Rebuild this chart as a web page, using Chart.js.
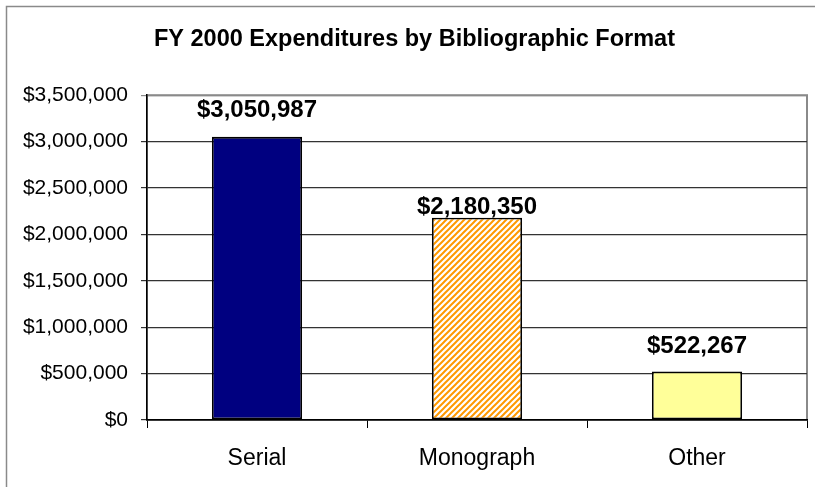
<!DOCTYPE html>
<html>
<head>
<meta charset="utf-8">
<script src="https://cdn.jsdelivr.net/npm/chart.js@4"></script>
<style>
  html, body { margin: 0; padding: 0; background: #fff; }
  #wrap { width: 815px; height: 487px; position: relative; }
</style>
</head>
<body>
<div id="wrap"><canvas id="formatChart"></canvas></div>
<script>
const categories   = ['Serial', 'Monograph', 'Other'];
const expenditures = [3050987, 2180350, 522267];
const yMax  = 3500000;
const yStep = 500000;

const FONT = '"Liberation Sans", Arial, sans-serif';

function money(v) {
  return '$' + Number(v).toLocaleString('en-US');
}

// orange diagonal hatch for the Monograph bar
function hatch() {
  const c = document.createElement('canvas');
  c.width = 6; c.height = 6;
  const g = c.getContext('2d');
  g.fillStyle = '#fff';
  g.fillRect(0, 0, 6, 6);
  g.strokeStyle = '#FF9900';
  g.lineWidth = 2;
  g.beginPath();
  g.moveTo(0, 6); g.lineTo(6, 0);
  g.moveTo(-3, 3); g.lineTo(3, -3);
  g.moveTo(3, 9); g.lineTo(9, 3);
  g.stroke();
  return g.createPattern(c, 'repeat');
}

const frame = {
  id: 'frame',
  beforeDraw(chart) {
    const ctx = chart.ctx, a = chart.chartArea;
    ctx.save();
    ctx.strokeStyle = '#8a8a8a';
    ctx.lineWidth = 1.5;
    ctx.strokeRect(6.5, 6.5, 820, 500);
    ctx.lineWidth = 2;
    ctx.strokeRect(a.left, a.top, a.right - a.left, a.bottom - a.top);
    ctx.restore();
  }
};

const valueLabels = {
  id: 'valueLabels',
  afterDatasetsDraw(chart, args, opts) {
    const ctx = chart.ctx;
    const meta = chart.getDatasetMeta(0);
    ctx.save();
    ctx.font = 'bold 24px ' + FONT;
    ctx.fillStyle = '#000';
    ctx.textAlign = 'center';
    ctx.textBaseline = 'alphabetic';
    meta.data.forEach(function(bar, i) {
      ctx.fillText(money(expenditures[i]), bar.x, bar.y - opts.gaps[i]);
    });
    ctx.restore();
  }
};

new Chart(document.getElementById('formatChart').getContext('2d'), {
  type: 'bar',
  data: {
    labels: categories,
    datasets: [{
      data: expenditures,
      backgroundColor: ['#000080', hatch(), '#FFFF99'],
      borderColor: '#000',
      borderWidth: 1.8,
      borderSkipped: false,
      barPercentage: 0.41,
      categoryPercentage: 1
    }]
  },
  options: {
    responsive: true,
    maintainAspectRatio: false,
    animation: false,
    layout: { padding: { left: 22, right: 8, top: 0, bottom: 0 } },
    plugins: {
      legend: { display: false },
      tooltip: { enabled: false },
      title: {
        display: true,
        text: 'FY 2000 Expenditures by Bibliographic Format',
        color: '#000',
        font: { family: FONT, size: 23.5, weight: 'bold', lineHeight: 1.2 },
        padding: { top: 25, bottom: 42 }
      },
      valueLabels: { gaps: [20, 4, 19] }
    },
    scales: {
      x: {
        grid: {
          offset: true,
          drawOnChartArea: false,
          drawTicks: true,
          tickLength: 8,
          color: '#000'
        },
        border: { color: '#000', width: 1.5 },
        ticks: {
          color: '#000',
          padding: 17,
          font: { family: FONT, size: 23 }
        },
        afterFit(scale) { scale.height = 67; }
      },
      y: {
        min: 0,
        max: yMax,
        ticks: {
          stepSize: yStep,
          color: '#000',
          padding: 13,
          font: { family: FONT, size: 21 },
          callback: money
        },
        grid: {
          tickLength: 6,
          color: function(c) {
            return c.tick && c.tick.value === yMax ? '#8a8a8a' : '#333';
          },
          lineWidth: 1.2
        },
        border: { color: '#000', width: 1.5 },
        afterFit(scale) { scale.width = 125; }
      }
    }
  },
  plugins: [frame, valueLabels]
});
</script>
</body>
</html>
